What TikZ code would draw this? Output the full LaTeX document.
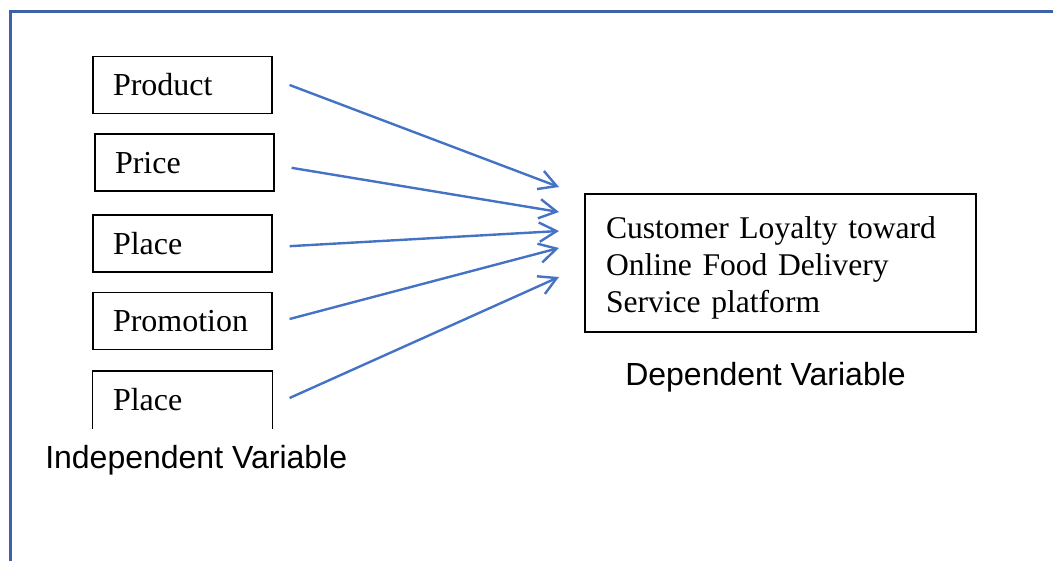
\documentclass[tikz,border=0pt]{standalone}
\usepackage{fontspec}
\setmainfont{Liberation Serif}
\setsansfont{Liberation Sans}
\usetikzlibrary{arrows.meta}
\definecolor{framecol}{RGB}{62,98,168}
\definecolor{arrowcol}{RGB}{68,114,196}
\tikzset{
  varbox/.style={draw=black, line width=0.9pt, rectangle, align=left,
    inner xsep=15pt, inner ysep=0pt, text width=104.25pt,
    minimum height=42.75pt, text height=16.3pt, text depth=0pt,
    font=\fontsize{24}{28}\selectfont},
  openbox/.style={varbox, draw=none},
  depbox/.style={draw=black, line width=0.9pt, rectangle, align=left,
    inner xsep=15.75pt, inner ysep=0pt, text width=261.75pt,
    minimum height=103.5pt, font=\fontsize{23.7}{27.75}\selectfont},
  caption/.style={font=\sffamily\fontsize{24}{28}\selectfont, inner sep=0pt,
    anchor=base west},
  link/.style={draw=arrowcol, line width=1.8pt,
    -{Straight Barb[length=13pt, width=14.5pt, line width=1.8pt]}},
}
\begin{document}
\begin{tikzpicture}[x=0.75pt, y=-0.75pt]
  \useasboundingbox (0,0) rectangle (1053,561);
  % outer frame: only the top and left edges
  \draw[framecol, line width=2.25pt] (10,561) -- (10,11) -- (1053,11);

  % independent variables
  \node[varbox] (prod)  at (182.5,85)    {Product};
  \node[varbox] (price) at (184.5,162.5) {Price};
  \node[varbox] (place) at (182.5,243.5) {Place};
  \node[varbox] (promo) at (182.5,321)   {Promotion};
  \node[openbox] (place2) at (182.5,400) {Place};
  \draw[black, line width=0.9pt]
    (place2.south west) |- (place2.north east) -- (place2.south east);

  % dependent variable (the strut lowers the three lines a little)
  \node[depbox] (dep) at (780.5,263)
    {\rule{0pt}{24pt}Customer Loyalty toward\\Online Food Delivery\\Service platform};

  % captions
  \node[caption] (indlab) at (45,468)  {Independent Variable};
  \node[caption] (deplab) at (625,385) {Dependent Variable};

  % arrow tips in front of the dependent box
  \coordinate (t1) at (559,187);
  \coordinate (t2) at (559,212);
  \coordinate (t3) at (559,231);
  \coordinate (t4) at (559,248);
  \coordinate (t5) at (559,277);

  \draw[link] ([xshift=12.75pt]prod.east) -- (t1);
  \draw[link] ([shift={(12.75pt,-4pt)}]price.east) -- (t2);
  \draw[link] ([shift={(12.75pt,-2pt)}]place.east) -- (t3);
  \draw[link] ([shift={(12.75pt,1.5pt)}]promo.east) -- (t4);
  \draw[link] ([shift={(12.75pt,1.5pt)}]place2.east) -- (t5);
\end{tikzpicture}
\end{document}
